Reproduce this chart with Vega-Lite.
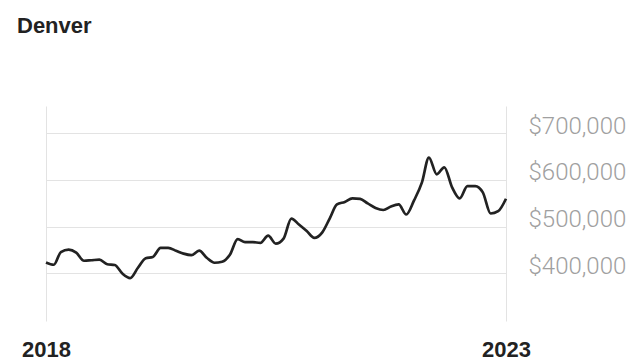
{
  "$schema": "https://vega.github.io/schema/vega-lite/v6.json",
  "width": 460,
  "height": 215,
  "autosize": {"type": "none"},
  "padding": {"left": 46, "top": 106, "right": 131, "bottom": 39},
  "background": "white",
  "title": {
    "text": "Denver",
    "anchor": "start",
    "frame": "group",
    "dx": -29,
    "offset": 51,
    "baseline": "alphabetic",
    "font": "Liberation Sans",
    "fontSize": 22,
    "fontWeight": "bold",
    "color": "#222222"
  },
  "config": {"view": {"stroke": null}},
  "data": {
    "values": [
      {"date": "2018-01-01", "price": 422900},
      {"date": "2018-02-01", "price": 417900},
      {"date": "2018-03-01", "price": 444900},
      {"date": "2018-04-01", "price": 450300},
      {"date": "2018-05-01", "price": 443800},
      {"date": "2018-06-01", "price": 426500},
      {"date": "2018-07-01", "price": 427600},
      {"date": "2018-08-01", "price": 428700},
      {"date": "2018-09-01", "price": 419000},
      {"date": "2018-10-01", "price": 417300},
      {"date": "2018-11-01", "price": 398500},
      {"date": "2018-12-01", "price": 389200},
      {"date": "2019-01-01", "price": 411400},
      {"date": "2019-02-01", "price": 431900},
      {"date": "2019-03-01", "price": 434500},
      {"date": "2019-04-01", "price": 454000},
      {"date": "2019-05-01", "price": 454000},
      {"date": "2019-06-01", "price": 448100},
      {"date": "2019-07-01", "price": 441700},
      {"date": "2019-08-01", "price": 438400},
      {"date": "2019-09-01", "price": 448100},
      {"date": "2019-10-01", "price": 433000},
      {"date": "2019-11-01", "price": 422200},
      {"date": "2019-12-01", "price": 424400},
      {"date": "2020-01-01", "price": 439500},
      {"date": "2020-02-01", "price": 473000},
      {"date": "2020-03-01", "price": 466500},
      {"date": "2020-04-01", "price": 466500},
      {"date": "2020-05-01", "price": 464800},
      {"date": "2020-06-01", "price": 480500},
      {"date": "2020-07-01", "price": 463200},
      {"date": "2020-08-01", "price": 474000},
      {"date": "2020-09-01", "price": 517200},
      {"date": "2020-10-01", "price": 504300},
      {"date": "2020-11-01", "price": 490200},
      {"date": "2020-12-01", "price": 475500},
      {"date": "2021-01-01", "price": 487000},
      {"date": "2021-02-01", "price": 518300},
      {"date": "2021-03-01", "price": 547400},
      {"date": "2021-04-01", "price": 552800},
      {"date": "2021-05-01", "price": 560400},
      {"date": "2021-06-01", "price": 559300},
      {"date": "2021-07-01", "price": 549600},
      {"date": "2021-08-01", "price": 539900},
      {"date": "2021-09-01", "price": 535500},
      {"date": "2021-10-01", "price": 543100},
      {"date": "2021-11-01", "price": 547400},
      {"date": "2021-12-01", "price": 525800},
      {"date": "2022-01-01", "price": 556100},
      {"date": "2022-02-01", "price": 594300},
      {"date": "2022-03-01", "price": 648200},
      {"date": "2022-04-01", "price": 612200},
      {"date": "2022-05-01", "price": 627300},
      {"date": "2022-06-01", "price": 584100},
      {"date": "2022-07-01", "price": 560400},
      {"date": "2022-08-01", "price": 586900},
      {"date": "2022-09-01", "price": 586900},
      {"date": "2022-10-01", "price": 573300},
      {"date": "2022-11-01", "price": 528000},
      {"date": "2022-12-01", "price": 533000},
      {"date": "2023-01-01", "price": 559700}
    ]
  },
  "mark": {"type": "line", "interpolate": "monotone", "color": "#222222", "strokeWidth": 2.7},
  "encoding": {
    "x": {
      "field": "date",
      "type": "temporal",
      "scale": {"type": "utc"},
      "axis": {
        "title": null,
        "values": [{"year": 2018, "month": 1, "date": 1, "utc": true}, {"year": 2023, "month": 1, "date": 1, "utc": true}],
        "format": "%Y",
        "grid": true,
        "gridColor": "#e3e3e3",
        "gridWidth": 1,
        "domain": false,
        "ticks": false,
        "labelFont": "Liberation Sans",
        "labelFontSize": 22,
        "labelFontWeight": "bold",
        "labelColor": "#222222",
        "labelBaseline": "alphabetic",
        "labelPadding": 35,
        "labelAlign": "center",
        "labelBound": false,
        "labelFlush": false,
        "labelOverlap": false
      }
    },
    "y": {
      "field": "price",
      "type": "quantitative",
      "scale": {"domain": [297000, 759000], "nice": false, "zero": false},
      "axis": {
        "title": null,
        "orient": "right",
        "values": [400000, 500000, 600000, 700000],
        "format": "$,.0f",
        "grid": true,
        "gridColor": "#e3e3e3",
        "gridWidth": 1,
        "domain": false,
        "ticks": false,
        "labelFont": "Roboto",
        "labelFontSize": 24,
        "labelFontWeight": 300,
        "labelColor": "#a0a0a0",
        "labelBaseline": "alphabetic",
        "labelPadding": 22,
        "labelAlign": "left",
        "labelBound": false,
        "labelFlush": false
      }
    }
  }
}
